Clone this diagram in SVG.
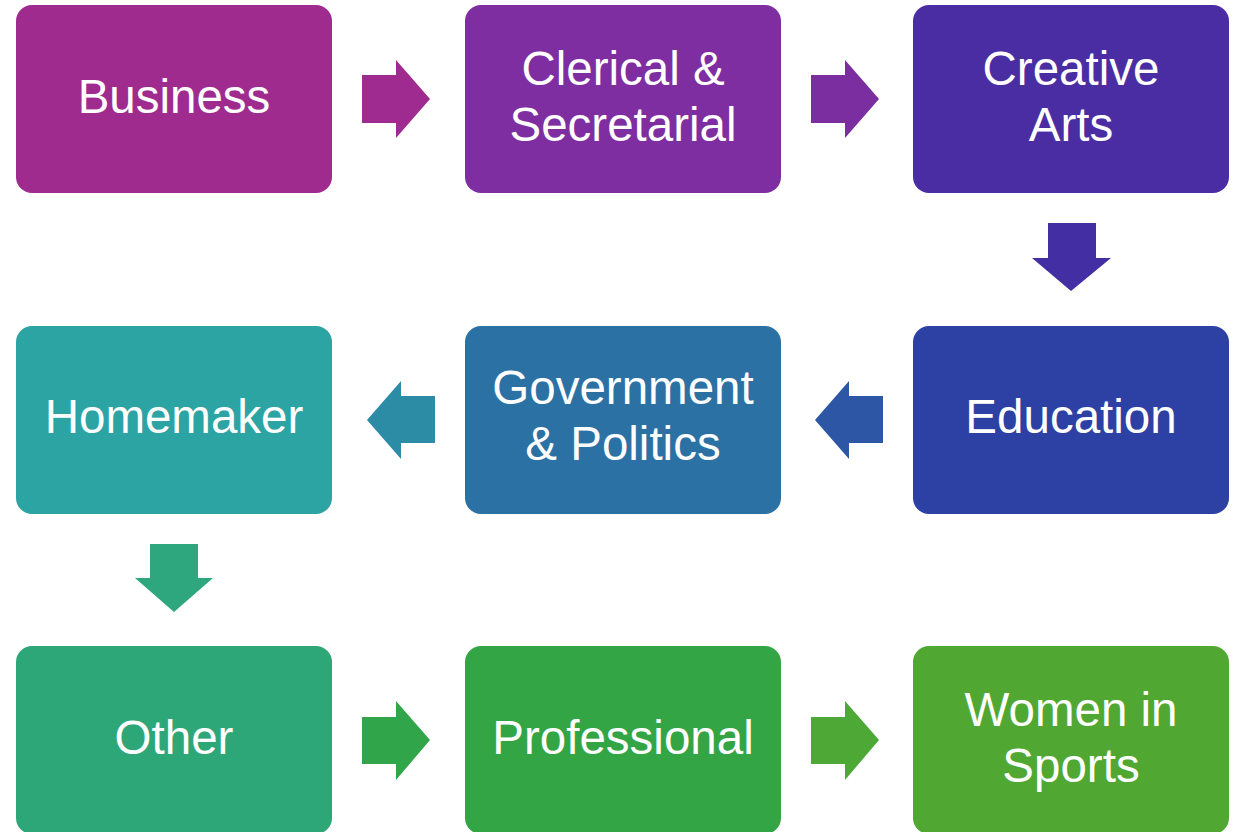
<svg xmlns="http://www.w3.org/2000/svg" width="1238" height="832" viewBox="0 0 1238 832">
<style>
.box{stroke:none}
.lbl{font-family:"Liberation Sans","Open Sans",sans-serif;font-size:47.5px;fill:#ffffff;text-anchor:middle}
</style>
<rect width="1238" height="832" fill="#ffffff"/>
<g id="connectors">
<polygon fill="#A02B90" points="362,75 396,75 396,60 430,99 396,138 396,123 362,123"/>
<polygon fill="#7A2EA0" points="811,75 845,75 845,60 879,99 845,138 845,123 811,123"/>
<polygon fill="#432EA3" points="1048,223 1096,223 1096,258 1111,258 1071,291 1032,258 1048,258"/>
<polygon fill="#2D56A4" points="883,396 849,396 849,381 815,420 849,459 849,443 883,443"/>
<polygon fill="#2C8CA5" points="435,396 401,396 401,381 367,420 401,459 401,443 435,443"/>
<polygon fill="#2EA77E" points="150,544 198,544 198,578 213,578 174,612 135,578 150,578"/>
<polygon fill="#31A54A" points="362,717 396,717 396,701 430,740 396,780 396,764 362,764"/>
<polygon fill="#4DA836" points="811,717 845,717 845,701 879,740 845,780 845,764 811,764"/>
</g>
<g id="business"><rect class="box" x="16" y="5" width="316" height="188" rx="16" fill="#A02B8F"/><text class="lbl" x="174" y="113">Business</text></g>
<g id="clerical"><rect class="box" x="465" y="5" width="316" height="188" rx="16" fill="#7E2EA0"/><text class="lbl" x="623" y="85">Clerical &amp;</text><text class="lbl" x="623" y="140.5">Secretarial</text></g>
<g id="creative"><rect class="box" x="913" y="5" width="316" height="188" rx="16" fill="#4B2DA3"/><text class="lbl" x="1071" y="85">Creative</text><text class="lbl" x="1071" y="140.5">Arts</text></g>
<g id="education"><rect class="box" x="913" y="326" width="316" height="188" rx="16" fill="#2D41A4"/><text class="lbl" x="1071" y="433">Education</text></g>
<g id="government"><rect class="box" x="465" y="326" width="316" height="188" rx="16" fill="#2C71A3"/><text class="lbl" x="623" y="404">Government</text><text class="lbl" x="623" y="459.5">&amp; Politics</text></g>
<g id="homemaker"><rect class="box" x="16" y="326" width="316" height="188" rx="16" fill="#2BA4A3"/><text class="lbl" x="174" y="433">Homemaker</text></g>
<g id="other"><rect class="box" x="16" y="646" width="316" height="188" rx="16" fill="#2EA778"/><text class="lbl" x="174" y="754">Other</text></g>
<g id="professional"><rect class="box" x="465" y="646" width="316" height="188" rx="16" fill="#33A545"/><text class="lbl" x="623" y="754">Professional</text></g>
<g id="sports"><rect class="box" x="913" y="646" width="316" height="188" rx="16" fill="#50A833"/><text class="lbl" x="1071" y="726">Women in</text><text class="lbl" x="1071" y="781.5">Sports</text></g>
</svg>
